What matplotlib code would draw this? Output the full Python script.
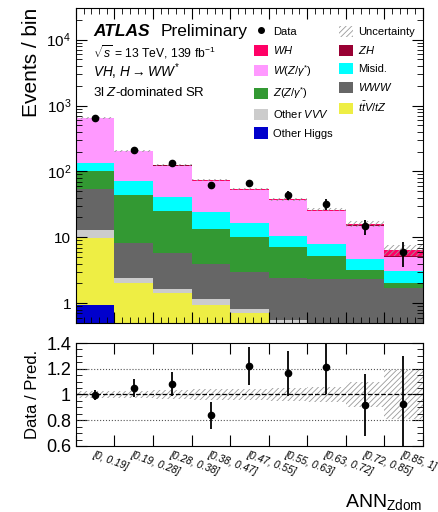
import numpy as np
import matplotlib
matplotlib.use('Agg')
import matplotlib.pyplot as plt
from matplotlib.patches import Patch
from matplotlib.lines import Line2D
from matplotlib.ticker import MultipleLocator, LogLocator, NullFormatter, FixedLocator

plt.rcParams['font.family'] = ['Liberation Sans', 'DejaVu Sans']
plt.rcParams['mathtext.fontset'] = 'custom'
plt.rcParams['mathtext.rm'] = 'Liberation Sans'
plt.rcParams['mathtext.it'] = 'Liberation Sans:italic'
plt.rcParams['hatch.linewidth'] = 0.6

# bin labels of ANN_Zdom
bin_labels = ['[0, 0.19]', '[0.19, 0.28]', '[0.28, 0.38]', '[0.38, 0.47]', '[0.47, 0.55]',
              '[0.55, 0.63]', '[0.63, 0.72]', '[0.72, 0.85]', '[0.85, 1]']

# stacked backgrounds, bottom to top
other_higgs = [0.94, 0.05, 0.05, 0.05, 0.05, 0.04, 0.03, 0.03, 0.02]
ttv_tz = [8.76, 2.0, 1.37, 0.9, 0.66, 0.36, 0.27, 0.22, 0.18]
other_vvv = [3.1, 0.35, 0.24, 0.19, 0.12, 0.15, 0.15, 0.15, 0.15]
www = [40.7, 5.7, 4.04, 2.82, 2.17, 1.83, 1.9, 1.95, 1.37]
z_zg = [46.5, 35.9, 19.3, 9.44, 7.2, 4.72, 2.85, 0.85, 0.33]
misid = [32.0, 28.0, 15.5, 11.0, 6.2, 3.3, 2.7, 1.5, 1.05]
w_zg = [513.0, 129.0, 82.5, 47.6, 35.6, 25.9, 17.1, 10.3, 1.95]
zh = [1.0, 1.0, 1.0, 0.5, 0.5, 0.3, 0.3, 0.2, 0.25]
wh = [5.0, 2.0, 2.0, 1.5, 1.5, 1.2, 1.0, 0.8, 1.2]

data = [650, 214, 136, 62, 66, 44, 32, 14.7, 6.0]
# relative uncertainty of the prediction
rel_unc = [0.025, 0.03, 0.035, 0.04, 0.04, 0.05, 0.06, 0.10, 0.19]

samples = [
    (other_higgs, '#0000cc', 'Other Higgs'),
    (ttv_tz, '#eeee44', r'$t\bar{t}V/tZ$'),
    (other_vvv, '#cccccc', r'Other $VVV$'),
    (www, '#666666', r'$WWW$'),
    (z_zg, '#339933', r'$Z(Z/\gamma^{*})$'),
    (misid, '#00ffff', 'Misid.'),
    (w_zg, '#ff99ff', r'$W(Z/\gamma^{*})$'),
    (zh, '#990033', r'$ZH$'),
    (wh, '#ff0066', r'$WH$'),
]

nb = len(bin_labels)
x = np.arange(nb)
edges = np.arange(nb + 1)

fig = plt.figure(figsize=(4.39, 5.12), dpi=100)
ax = fig.add_axes([0.173, 0.369, 0.790, 0.615])
rax = fig.add_axes([0.173, 0.129, 0.790, 0.201])

bottom = np.zeros(nb)
handles = {}
for vals, col, lab in samples:
    vals = np.array(vals)
    ax.bar(x, vals, width=1.0, bottom=bottom, align='edge', color=col, linewidth=0)
    bottom = bottom + vals
    handles[lab] = Patch(facecolor=col, edgecolor='none')
total = bottom

d = np.array(data)
derr = np.sqrt(d)
unc = np.array(rel_unc)

# uncertainty band
ax.bar(x, 2 * unc * total, width=1.0, bottom=total * (1 - unc), align='edge',
       facecolor='none', edgecolor='#999999', hatch='//////', linewidth=0)
ax.errorbar(x + 0.5, d, yerr=derr, fmt='o', color='black', ms=4.5, elinewidth=1.3, capsize=0)

ax.set_yscale('log')
ax.set_ylim(0.5, 3e4)
ax.set_xlim(0, nb)
ax.set_yticks([1, 10, 100, 1000, 10000])
ax.set_yticklabels(['1', '10', r'$10^2$', r'$10^3$', r'$10^4$'], fontsize=11)
ax.yaxis.set_minor_locator(LogLocator(base=10, subs=np.arange(2, 10)))
ax.yaxis.set_minor_formatter(NullFormatter())
ax.xaxis.set_major_locator(MultipleLocator(1))
ax.xaxis.set_minor_locator(MultipleLocator(0.2))
ax.set_xticklabels([])
ax.tick_params(which='both', direction='in', top=True, right=True)
ax.tick_params(which='major', length=8)
ax.tick_params(which='minor', length=4)
ax.set_ylabel('Events / bin', fontsize=15, loc='top')

ax.text(0.05, 0.925, 'ATLAS', transform=ax.transAxes, fontsize=12.5, fontweight='bold',
        style='italic', va='center')
ax.text(0.245, 0.925, 'Preliminary', transform=ax.transAxes, fontsize=12.5, va='center')
ax.text(0.05, 0.86, r'$\sqrt{s}$ = 13 TeV, 139 fb$^{-1}$', transform=ax.transAxes,
        fontsize=8.7, va='center')
ax.text(0.05, 0.797, r'$VH$, $H\rightarrow WW^{*}$', transform=ax.transAxes,
        fontsize=9.8, va='center')
ax.text(0.05, 0.733, r'3l $Z$-dominated SR', transform=ax.transAxes, fontsize=9.5, va='center')

data_h = Line2D([], [], marker='o', color='black', ls='none', ms=4)
unc_h = Patch(facecolor='white', edgecolor='#999999', hatch='//////', linewidth=0)
order = [('Data', data_h), (r'$WH$', handles[r'$WH$']),
         (r'$W(Z/\gamma^{*})$', handles[r'$W(Z/\gamma^{*})$']),
         (r'$Z(Z/\gamma^{*})$', handles[r'$Z(Z/\gamma^{*})$']),
         (r'Other $VVV$', handles[r'Other $VVV$']),
         ('Other Higgs', handles['Other Higgs']),
         ('Uncertainty', unc_h), (r'$ZH$', handles[r'$ZH$']),
         ('Misid.', handles['Misid.']), (r'$WWW$', handles[r'$WWW$']),
         (r'$t\bar{t}V/tZ$', handles[r'$t\bar{t}V/tZ$'])]
ax.legend([h for _, h in order], [l for l, _ in order], ncol=2, frameon=False,
          fontsize=8, loc='upper left', bbox_to_anchor=(0.513, 0.945),
          handlelength=1.26, handleheight=1.17, handletextpad=0.45,
          labelspacing=0.63, columnspacing=0.6, borderaxespad=0, borderpad=0)

# ratio panel
ratio = d / total
rerr = derr / total
rax.bar(x, 2 * unc, width=1.0, bottom=1 - unc, align='edge',
        facecolor='none', edgecolor='#999999', hatch='//////', linewidth=0)
rax.axhline(1.0, color='black', ls='--', lw=0.9)
for yv in [0.8, 1.2]:
    rax.axhline(yv, color='#555555', ls=':', lw=0.8)
rax.errorbar(x + 0.5, ratio, yerr=rerr, fmt='o', color='black', ms=4.5,
             elinewidth=1.3, capsize=0)
rax.set_xlim(0, nb)
rax.set_ylim(0.6, 1.4)
rax.set_yticks([0.6, 0.8, 1.0, 1.2, 1.4])
rax.set_yticklabels(['0.6', '0.8', '1', '1.2', '1.4'], fontsize=13)
rax.yaxis.set_minor_locator(MultipleLocator(0.05))
rax.xaxis.set_major_locator(FixedLocator(edges))
rax.set_xticklabels([])
rax.tick_params(which='both', direction='in', top=True, right=True)
rax.tick_params(which='major', length=8)
rax.tick_params(which='minor', length=4)
rax.set_ylabel('Data / Pred.', fontsize=12)
for i, lab in enumerate(bin_labels):
    rax.text(x[i] + 0.48, -0.04, lab, fontsize=7.5, style='italic', rotation=-20,
             rotation_mode='anchor', ha='left', va='top',
             transform=rax.get_xaxis_transform())
rax.text(1.0, -0.54, r'ANN$_{\mathrm{Zdom}}$', transform=rax.transAxes, fontsize=14,
         ha='right', va='center')

fig.savefig('out.png', dpi=100)
